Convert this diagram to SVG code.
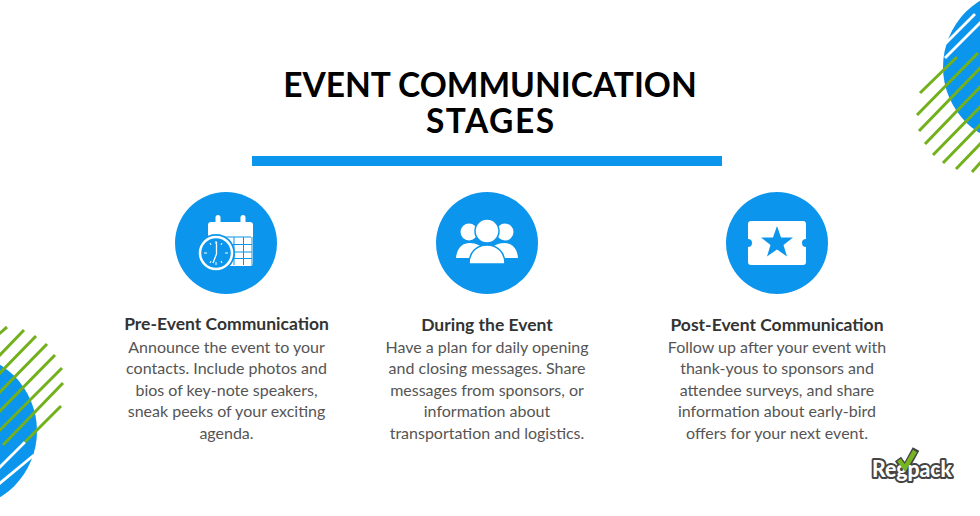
<svg xmlns="http://www.w3.org/2000/svg" width="980" height="516" viewBox="0 0 980 516">
<style>
.t{font-family:"Lato","Liberation Sans",sans-serif;font-weight:700;font-size:33.500px;fill:#000;text-anchor:middle}
.h{font-family:"Lato","Liberation Sans",sans-serif;font-weight:700;font-size:17.500px;fill:#333;text-anchor:middle}
.b{font-family:"Lato","Liberation Sans",sans-serif;font-size:16px;fill:#555;text-anchor:middle}
.blue{fill:#0c95ec}
.g{stroke:#72b01c;stroke-width:3;fill:none}
.w{stroke:#fff;stroke-width:2.800;fill:none}
.bw{stroke:#0c95ec;fill:#fff}
</style>
<rect width="980" height="516" fill="#fff"/>
<g id="deco-top-right">
<circle class="blue" cx="1021" cy="67" r="78"/>
<path class="w" d="M944 45L975 14M945 58L982 21"/>
<path class="g" d="M920 93L957 57M917 115L978 53M919 131L981 67M925 144L981 86M933 155L981 106M943 163L981 124M956 169L981 143M972 172L981 162"/>
</g>
<g id="deco-bottom-left">
<circle class="blue" cx="-41" cy="431" r="78"/>
<path class="w" d="M-1 468L25 442M-1 484L34 455"/>
<path class="g" d="M-1 334L7 327M-1 356L24 330M-1 374L36 336M-1 393L47 344M-1 412L55 355M-1 431L62 368M3 445L63 383M25 442L61 406"/>
</g>
<g id="title">
<text class="t" x="490" y="97">EVENT COMMUNICATION</text>
<text class="t" x="490" y="133" textLength="128">STAGES</text>
<rect class="blue" x="252" y="156" width="470" height="10"/>
</g>
<g id="stage-pre">
<circle class="blue" cx="226" cy="243" r="51"/>
<rect x="208" y="222" width="45" height="44" rx="3" fill="#fff"/>
<rect x="215.500" y="215" width="5" height="12" rx="2.500" fill="#fff"/>
<rect x="240.500" y="215" width="5" height="12" rx="2.500" fill="#fff"/>
<g fill="#0c95ec">
<rect x="212" y="236.500" width="39" height="1"/>
<rect x="233.500" y="237" width="1" height="28"/><rect x="243" y="237" width="1" height="28"/><rect x="251.500" y="237" width="1" height="28"/>
<rect x="228" y="244" width="24" height="1"/><rect x="228" y="251.500" width="24" height="1"/><rect x="228" y="258" width="24" height="1"/>
</g>
<circle cx="216" cy="253" r="19" fill="#0c95ec"/>
<circle cx="216" cy="253" r="16" fill="#0c95ec" stroke="#fff" stroke-width="2.500"/>
<path d="M216 241v3M216 262v3M204 253h3M225 253h3M210 243l1 2M222 243l-1 2M210 263l1-2M222 263l-1-2" stroke="#fff" stroke-width="1"/>
<path d="M216.500 242V254L213 263" fill="none" stroke="#fff" stroke-width="1.300"/>
<text class="h" x="226.500" y="330">Pre-Event Communication</text>
<text class="b" x="226.500" y="353">Announce the event to your</text>
<text class="b" x="226.500" y="374">contacts. Include photos and</text>
<text class="b" x="226.500" y="395.500">bios of key-note speakers,</text>
<text class="b" x="226.500" y="417">sneak peeks of your exciting</text>
<text class="b" x="226.500" y="438.500">agenda.</text>
</g>
<g id="stage-during">
<circle class="blue" cx="487" cy="243" r="51"/>
<circle cx="469" cy="232" r="8.500" fill="#fff"/><circle cx="505" cy="232" r="8.500" fill="#fff"/>
<path d="M456 258C457 247 463 243 470 243C476 243 482 246 484 250L470 258Z" fill="#fff"/>
<path d="M518 258C517 247 511 243 504 243C498 243 492 246 490 250L504 258Z" fill="#fff"/>
<circle class="bw" cx="487" cy="231" r="12" stroke-width="1.500"/>
<path class="bw" stroke-width="1.500" d="M469 264C469 252 477 245 487 245C497 245 505 252 505 264Z"/>
<text class="h" x="487" y="331">During the Event</text>
<text class="b" x="487" y="353">Have a plan for daily opening</text>
<text class="b" x="487" y="374">and closing messages. Share</text>
<text class="b" x="487" y="395.500">messages from sponsors, or</text>
<text class="b" x="487" y="417">information about</text>
<text class="b" x="487" y="438.500">transportation and logistics.</text>
</g>
<g id="stage-post">
<circle class="blue" cx="777" cy="243" r="51"/>
<path fill="#fff" d="M751 221H803Q806 221 806 224V239A4 4 0 0 0 806 247V262Q806 265 803 265H751Q748 265 748 262V247A4 4 0 0 0 748 239V224Q748 221 751 221Z"/>
<polygon class="blue" points="777,226 781,237.500 793,237.500 783.500,245 787,256.500 777,249.500 767,256.500 770.500,245 761,237.500 773,237.500"/>
<text class="h" x="777" y="331">Post-Event Communication</text>
<text class="b" x="777" y="353">Follow up after your event with</text>
<text class="b" x="777" y="374">thank-yous to sponsors and</text>
<text class="b" x="777" y="395.500">attendee surveys, and share</text>
<text class="b" x="777" y="417">information about early-bird</text>
<text class="b" x="777" y="438.500">offers for your next event.</text>
</g>
<g id="logo">
<path d="M898 459L905 469L916 449" fill="none" stroke="#444" stroke-width="7.500"/>
<text x="912" y="477" text-anchor="middle" font-family="Lato,'Liberation Sans',sans-serif" font-weight="900" font-size="22" fill="#fff" stroke="#444" stroke-width="4" paint-order="stroke" stroke-linejoin="round" textLength="80" lengthAdjust="spacingAndGlyphs">Regpack</text>
<path d="M899 460L905 468L915 451" fill="none" stroke="#76b51f" stroke-width="4.500"/>
</g>
</svg>
